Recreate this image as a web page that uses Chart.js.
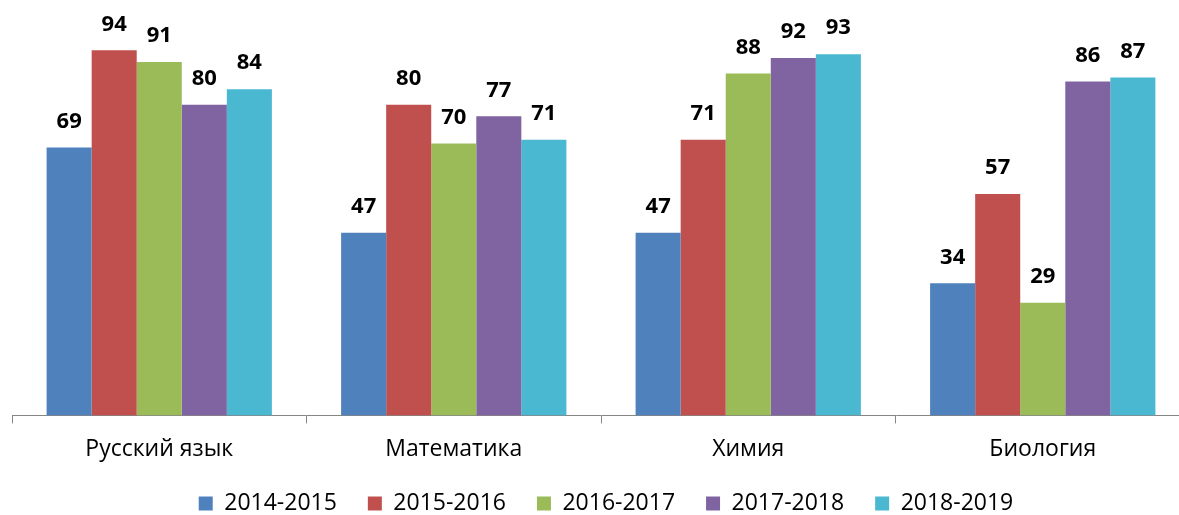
<!DOCTYPE html>
<html>
<head>
<meta charset="utf-8">
<script src="https://cdn.jsdelivr.net/npm/chart.js@4"></script>
<style>
  html, body { margin: 0; padding: 0; background: #fff; overflow: hidden; }
  #wrap { width: 1179px; height: 515px; overflow: hidden; }
</style>
</head>
<body>
<div id="wrap"><canvas id="chart" width="1190" height="560"></canvas></div>
<script>
const categories = ["Русский язык", "Математика", "Химия", "Биология"];
const years = ["2014-2015", "2015-2016", "2016-2017", "2017-2018", "2018-2019"];
const v2014 = [69, 47, 47, 34];
const v2015 = [94, 80, 71, 57];
const v2016 = [91, 70, 88, 29];
const v2017 = [80, 77, 92, 86];
const v2018 = [84, 71, 93, 87];
const colors = ["#4F81BD", "#C0504D", "#9BBB59", "#8064A2", "#4BB8D2"];

const font = "'Open Sans', sans-serif";

// подписи значений над столбцами
const valueLabels = {
  id: "valueLabels",
  afterDatasetsDraw(chart) {
    const ctx = chart.ctx;
    ctx.save();
    ctx.font = "bold 22px " + font;
    ctx.fillStyle = "#000";
    ctx.textAlign = "center";
    ctx.textBaseline = "middle";
    chart.data.datasets.forEach((ds, i) => {
      chart.getDatasetMeta(i).data.forEach((bar, j) => {
        ctx.fillText(ds.data[j], bar.x, bar.y - 26);
      });
    });
    ctx.restore();
  }
};

// легенду сдвигаем: чуть правее и выше, как в оригинале
const shiftLegend = {
  id: "shiftLegend",
  afterLayout(chart) {
    const lg = chart.legend;
    lg.left += 5;
    lg.right += 5;
    lg.top -= 14;
    lg.bottom -= 14;
  }
};

new Chart(document.getElementById("chart"), {
  type: "bar",
  data: {
    labels: categories,
    datasets: [v2014, v2015, v2016, v2017, v2018].map((d, i) => ({
      label: years[i],
      data: d,
      backgroundColor: colors[i],
      categoryPercentage: 0.765,
      barPercentage: 1
    }))
  },
  options: {
    responsive: false,
    animation: false,
    layout: { padding: { top: 27, left: 12, right: 0, bottom: 21 } },
    scales: {
      x: {
        grid: { offset: true, drawOnChartArea: false, tickLength: 8, color: "#868686" },
        border: { color: "#868686" },
        ticks: { color: "#000", font: { family: font, size: 23 }, padding: 12 }
      },
      y: { display: false, min: 0, max: 100 }
    },
    plugins: {
      legend: {
        position: "bottom",
        labels: {
          color: "#000",
          font: { family: font, size: 23 },
          boxWidth: 14,
          boxHeight: 14,
          padding: 31
        }
      },
      tooltip: { enabled: false }
    }
  },
  plugins: [valueLabels, shiftLegend]
});
</script>
</body>
</html>
